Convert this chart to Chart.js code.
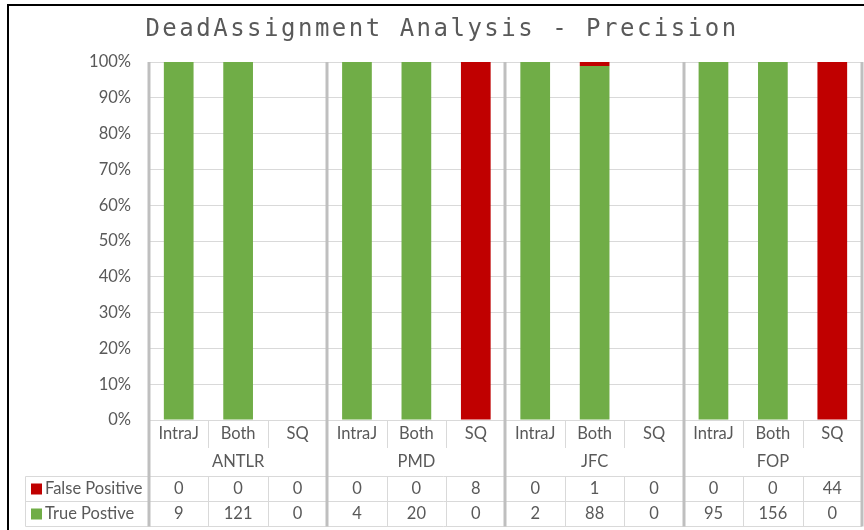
<!DOCTYPE html>
<html>
<head>
<meta charset="utf-8">
<script src="https://cdn.jsdelivr.net/npm/chart.js@4.4.1/dist/chart.umd.min.js"></script>
<style>
  html, body { margin: 0; padding: 0; background: #fff; }
  #wrap { width: 864px; height: 530px; position: relative; }
</style>
</head>
<body>
<div id="wrap"><canvas id="chart"></canvas></div>
<script>
const groups = ["ANTLR", "PMD", "JFC", "FOP"];
const tools = ["IntraJ", "Both", "SQ"];
const falsePositive = [0, 0, 0, 0, 0, 8, 0, 1, 0, 0, 0, 44];
const truePositive = [9, 121, 0, 4, 20, 0, 2, 88, 0, 95, 156, 0];
const seriesNames = ["True Postive", "False Positive"];
const yTickStep = 10;

const labels = [];
groups.forEach(() => tools.forEach((t) => labels.push(t)));

const pct = (a, b) => (a + b === 0 ? 0 : (a / (a + b)) * 100);
const tpPct = truePositive.map((v, i) => pct(v, falsePositive[i]));
const fpPct = falsePositive.map((v, i) => pct(v, truePositive[i]));

const GREEN = "#70ad47";
const RED = "#c00000";
const TEXT = "#595959";
const FONT = "Lato, 'Open Sans', sans-serif";
const FSIZE = 16.5;

const tablePlugin = {
  id: "tableBelow",
  afterDraw(chart) {
    const { ctx, chartArea } = chart;
    const x = chart.scales.x;
    const left = chartArea.left;
    const right = chartArea.right;
    const bottom = chartArea.bottom;
    const n = labels.length;
    const centers = labels.map((_, i) => x.getPixelForValue(i));
    const edges = [left];
    for (let i = 0; i < n - 1; i++) edges.push((centers[i] + centers[i + 1]) / 2);
    edges.push(right);

    const rowCat = bottom + 14;
    const rowGroup = bottom + 42;
    const tableTop = bottom + 56.5;
    const rowH = 25;
    const tableLeft = 25.5;

    ctx.save();
    // thin lines
    ctx.strokeStyle = "#d9d9d9";
    ctx.lineWidth = 1;
    ctx.beginPath();
    for (let r = 0; r <= 2; r++) {
      ctx.moveTo(tableLeft, tableTop + r * rowH);
      ctx.lineTo(right, tableTop + r * rowH);
    }
    ctx.moveTo(tableLeft, tableTop);
    ctx.lineTo(tableLeft, tableTop + 2 * rowH);
    for (let i = 1; i < n; i++) {
      if (i % tools.length === 0) continue;
      const ex = Math.round(edges[i]) + 0.5;
      ctx.moveTo(ex, bottom);
      ctx.lineTo(ex, bottom + 28);
      ctx.moveTo(ex, tableTop);
      ctx.lineTo(ex, tableTop + 2 * rowH);
    }
    ctx.stroke();

    // group separators
    ctx.strokeStyle = "#bfbfbf";
    ctx.lineWidth = 3;
    ctx.beginPath();
    for (let g = 0; g <= groups.length; g++) {
      const ex = Math.round(edges[g * tools.length]);
      ctx.moveTo(ex, chartArea.top);
      ctx.lineTo(ex, tableTop + 2 * rowH);
    }
    ctx.stroke();

    // texts
    ctx.fillStyle = TEXT;
    ctx.font = FSIZE + "px " + FONT;
    ctx.textAlign = "center";
    ctx.textBaseline = "middle";
    labels.forEach((l, i) => ctx.fillText(l, centers[i], rowCat));
    groups.forEach((g, gi) => {
      const cx = (edges[gi * tools.length] + edges[(gi + 1) * tools.length]) / 2;
      ctx.fillText(g, cx, rowGroup);
    });
    const rows = [
      { name: seriesNames[1], color: RED, vals: falsePositive },
      { name: seriesNames[0], color: GREEN, vals: truePositive },
    ];
    rows.forEach((row, r) => {
      const cy = tableTop + r * rowH + rowH / 2;
      ctx.textAlign = "center";
      ctx.fillStyle = TEXT;
      row.vals.forEach((v, i) => ctx.fillText(String(v), centers[i], cy));
      ctx.fillStyle = row.color;
      ctx.fillRect(31, cy - 5.5, 11, 11);
      ctx.fillStyle = TEXT;
      ctx.textAlign = "left";
      ctx.fillText(row.name, 45, cy);
    });

    // title
    ctx.font = "24px 'DejaVu Sans Mono', monospace";
    ctx.letterSpacing = "2.5px";
    ctx.textAlign = "center";
    ctx.textBaseline = "alphabetic";
    ctx.fillText("DeadAssignment Analysis - Precision", 442, 36);
    ctx.letterSpacing = "0px";

    // outer frame
    ctx.strokeStyle = "#000";
    ctx.lineWidth = 2;
    ctx.beginPath();
    ctx.moveTo(8, 530);
    ctx.lineTo(8, 5);
    ctx.lineTo(864, 5);
    ctx.stroke();
    ctx.restore();
  },
};

new Chart(document.getElementById("chart"), {
  type: "bar",
  data: {
    labels: labels,
    datasets: [
      {
        label: seriesNames[0],
        data: tpPct,
        backgroundColor: GREEN,
        borderWidth: 0,
      },
      {
        label: seriesNames[1],
        data: fpPct,
        backgroundColor: RED,
        borderWidth: 0,
      },
    ],
  },
  options: {
    responsive: true,
    maintainAspectRatio: false,
    animation: false,
    categoryPercentage: 1,
    barPercentage: 0.5,
    layout: { padding: { left: 0, right: 2, top: 62, bottom: 110 } },
    scales: {
      x: { stacked: true, display: false },
      y: {
        stacked: true,
        min: 0,
        max: 100,
        afterFit: (scale) => { scale.width = 149; },
        border: { display: false },
        grid: { color: "#d9d9d9", drawTicks: false },
        ticks: {
          stepSize: yTickStep,
          padding: 18,
          color: TEXT,
          font: { family: FONT, size: FSIZE },
          callback: (v) => v + "%",
        },
      },
    },
    plugins: {
      legend: { display: false },
      tooltip: { enabled: false },
    },
  },
  plugins: [tablePlugin],
});
</script>
</body>
</html>
